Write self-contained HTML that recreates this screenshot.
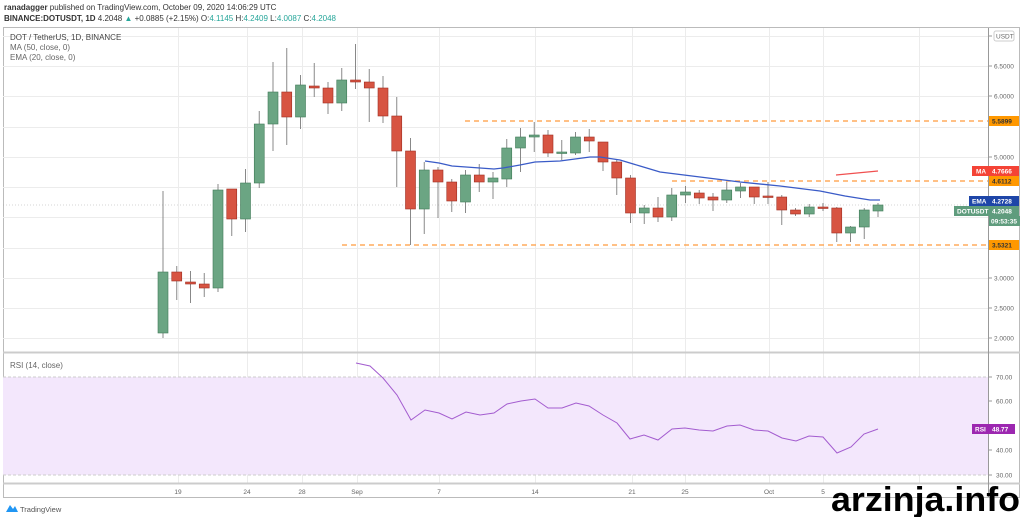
<!DOCTYPE html><html><head><meta charset="utf-8"><style>
body{margin:0;background:#fff;width:1024px;height:517px;overflow:hidden;font-family:"Liberation Sans",sans-serif}
</style></head><body>
<svg id="s" width="1024" height="517" xmlns="http://www.w3.org/2000/svg" font-family="Liberation Sans, sans-serif">
<text x="4" y="10" font-size="8" fill="#333"><tspan font-weight="bold">ranadagger</tspan> published on TradingView.com, October 09, 2020 14:06:29 UTC</text>
<text x="4" y="21" font-size="8" fill="#333"><tspan font-weight="bold">BINANCE:DOTUSDT, 1D</tspan> 4.2048 <tspan fill="#26a69a">▲</tspan> +0.0885 (+2.15%) O:<tspan fill="#26a69a">4.1145</tspan> H:<tspan fill="#26a69a">4.2409</tspan> L:<tspan fill="#26a69a">4.0087</tspan> C:<tspan fill="#26a69a">4.2048</tspan></text>
<rect x="3.5" y="27.5" width="1016" height="470" fill="none" stroke="#bbb"/>
<g id="grid" stroke="#ececec" stroke-width="1"></g>
<rect x="3" y="377" width="985" height="98" fill="#f3e7fc"/>
<line x1="3" y1="377" x2="988" y2="377" stroke="#ccc" stroke-dasharray="3,2"/>
<line x1="3" y1="475" x2="988" y2="475" stroke="#ccc" stroke-dasharray="3,2"/>
<line x1="3" y1="352.5" x2="1020" y2="352.5" stroke="#ccc" stroke-width="2"/>
<line x1="3" y1="483.5" x2="1020" y2="483.5" stroke="#ccc" stroke-width="2"/>
<line x1="988.5" y1="28" x2="988.5" y2="497" stroke="#999"/>
<text x="10" y="40" font-size="8" fill="#444">DOT / TetherUS, 1D, BINANCE</text>
<text x="10" y="50" font-size="8" fill="#666">MA (50, close, 0)</text>
<text x="10" y="60" font-size="8" fill="#666">EMA (20, close, 0)</text>
<text x="10" y="368" font-size="8" fill="#666">RSI (14, close)</text>
<line x1="465" y1="121" x2="988" y2="121" stroke="#ff9a3c" stroke-width="1.3" stroke-dasharray="5,4"/>
<line x1="672" y1="181" x2="988" y2="181" stroke="#ff9a3c" stroke-width="1.3" stroke-dasharray="5,4"/>
<line x1="342" y1="245" x2="988" y2="245" stroke="#ff9a3c" stroke-width="1.3" stroke-dasharray="5,4"/>
<line x1="3" y1="205" x2="988" y2="205" stroke="#aaa" stroke-width="0.6" stroke-dasharray="1,2"/>
<g id="c"></g>
<polyline fill="none" stroke="#3a5bc7" stroke-width="1.3" points="425,161 439,163 452,166 466,167 480,168 494,169 503,168 520,165 535,162 560,161 590,157 600,157 620,160 640,166 660,172 700,177 740,182 780,186 820,191 845,196 870,200 880,200"/>
<polyline fill="none" stroke="#f05050" stroke-width="1.3" points="836,175 878,171"/>
<polyline fill="none" stroke="#a35ccf" stroke-width="1" points="356,363 370,366 383,378 397,395 411,420 425,410 439,413 452,419 466,412 480,415 494,413 507,404 521,401 535,399 548,408 562,408 576,403 589,406 603,415 617,423 630,439 644,435 658,440 672,429 685,428 699,430 713,431 727,426 740,425 754,430 768,431 782,438 796,441 809,436 823,437 837,453 851,447 864,434 878,429"/>
<g id="ax" font-size="6.5" fill="#666"></g>
<g font-size="6.5" font-weight="bold" fill="#fff">
<rect x="989" y="116" width="30" height="10" fill="#ff9800"/><text x="992" y="123.5" fill="#333">5.5899</text>
<rect x="972" y="166" width="17" height="10" fill="#f44336"/><text x="976" y="173.5">MA</text>
<rect x="989" y="166" width="30" height="10" fill="#f44336"/><text x="992" y="173.5">4.7666</text>
<rect x="989" y="176" width="30" height="10" fill="#ff9800"/><text x="992" y="183.5" fill="#333">4.6112</text>
<rect x="969" y="196" width="20" height="10" fill="#1e46a8"/><text x="972" y="203.5">EMA</text>
<rect x="989" y="196" width="30" height="10" fill="#1e46a8"/><text x="992" y="203.5">4.2728</text>
<rect x="954" y="206" width="35" height="10" fill="#5f9c7d"/><text x="957" y="213.5">DOTUSDT</text>
<rect x="989" y="206" width="30" height="10" fill="#5f9c7d"/><text x="992" y="213.5">4.2048</text>
<rect x="989" y="216" width="31" height="10" fill="#5f9c7d"/><text x="991" y="223.5">09:53:35</text>
<rect x="989" y="240" width="30" height="10" fill="#ff9800"/><text x="992" y="247.5" fill="#333">3.5321</text>
<rect x="972" y="424" width="17" height="10" fill="#9c27b0"/><text x="975" y="431.5">RSI</text>
<rect x="989" y="424" width="26" height="10" fill="#9c27b0"/><text x="992" y="431.5">48.77</text>
</g>
<rect x="994" y="31" width="20" height="10" fill="#fff" stroke="#ccc" rx="2"/><text x="996" y="38.5" font-size="6.5" fill="#666">USDT</text>
<path d="M6 512 L10 505 L13 509 L15 506 L18 512 Z" fill="#2196f3"/>
<text x="20" y="512" font-size="7.5" fill="#555">TradingView</text>
<text x="831" y="511" font-size="34" font-weight="bold" fill="#000" textLength="189" lengthAdjust="spacingAndGlyphs">arzinja.info</text>
</svg>
<script>
var NS="http://www.w3.org/2000/svg";
function el(p,t,a,txt){var e=document.createElementNS(NS,t);for(var k in a)e.setAttribute(k,a[k]);if(txt)e.textContent=txt;document.getElementById(p).appendChild(e);}
[36,66,96,127,157,187,217,248,278,308,338,401,426,450].forEach(function(y){el("grid","line",{x1:3,x2:988,y1:y+.5,y2:y+.5});});
[178,247,302,357,439,535,632,685,769,823,919].forEach(function(x){el("grid","line",{x1:x+.5,x2:x+.5,y1:28,y2:483});});
[[36,"7.0000"],[66,"6.5000"],[96,"6.0000"],[157,"5.0000"],[278,"3.0000"],[308,"2.5000"],[338,"2.0000"]].forEach(function(a){el("ax","line",{x1:988,x2:992,y1:a[0],y2:a[0],stroke:"#999"});el("ax","text",{x:994,y:a[0]+2.5},a[1]);});
[[377,"70.00"],[401,"60.00"],[450,"40.00"],[475,"30.00"]].forEach(function(a){el("ax","line",{x1:988,x2:992,y1:a[0],y2:a[0],stroke:"#999"});el("ax","text",{x:996,y:a[0]+2.5},a[1]);});
[[178,"19"],[247,"24"],[302,"28"],[357,"Sep"],[439,"7"],[535,"14"],[632,"21"],[685,"25"],[769,"Oct"],[823,"5"]].forEach(function(a){el("ax","text",{x:a[0],y:494,"text-anchor":"middle"},a[1]);});
var C=[[272,333,191,338,1],[272,281,266,300,0],[282,284,271,303,0],[284,288,273,297,0],[190,288,184,292,1],[189,219,189,236,0],[183,219,169,232,1],[124,183,111,188,1],[92,124,62,151,1],[92,117,48,145,0],[85,117,75,129,1],[86,88,63,97,0],[88,103,82,114,0],[80,103,68,111,1],[80,82,44,89,0],[82,88,69,122,0],[88,116,76,123,0],[116,151,97,187,0],[151,209,138,245,0],[170,209,162,234,1],[170,182,167,218,0],[182,201,179,212,0],[175,202,170,213,1],[175,182,164,192,0],[178,182,172,199,1],[148,179,139,187,1],[137,148,128,172,1],[135,137,122,152,1],[135,153,130,157,0],[152,153,140,160,1],[137,153,132,155,1],[137,141,129,152,0],[142,162,142,171,0],[162,178,160,195,0],[178,213,175,223,0],[208,213,205,224,1],[208,217,197,222,0],[195,217,188,221,1],[192,195,186,203,1],[193,198,190,204,0],[197,200,193,211,0],[190,200,182,203,1],[187,191,183,198,1],[187,197,187,204,0],[196,197,182,204,0],[197,210,195,225,0],[210,214,208,216,0],[207,214,204,217,1],[207,208,203,211,0],[208,233,207,242,0],[227,233,226,242,1],[210,227,208,239,1],[205,211,203,217,1]];
C.forEach(function(c,i){var x=163+i*13.75;var col=c[4]?"#6ba583":"#d75442";var st=c[4]?"#3f7a57":"#9e2f22";
el("c","line",{x1:x,x2:x,y1:c[2],y2:c[3],stroke:"#888","stroke-width":1});
el("c","rect",{x:x-5,y:c[0],width:10,height:Math.max(1.5,c[1]-c[0]),fill:col,stroke:st,"stroke-width":0.6});});
</script>
</body></html>
